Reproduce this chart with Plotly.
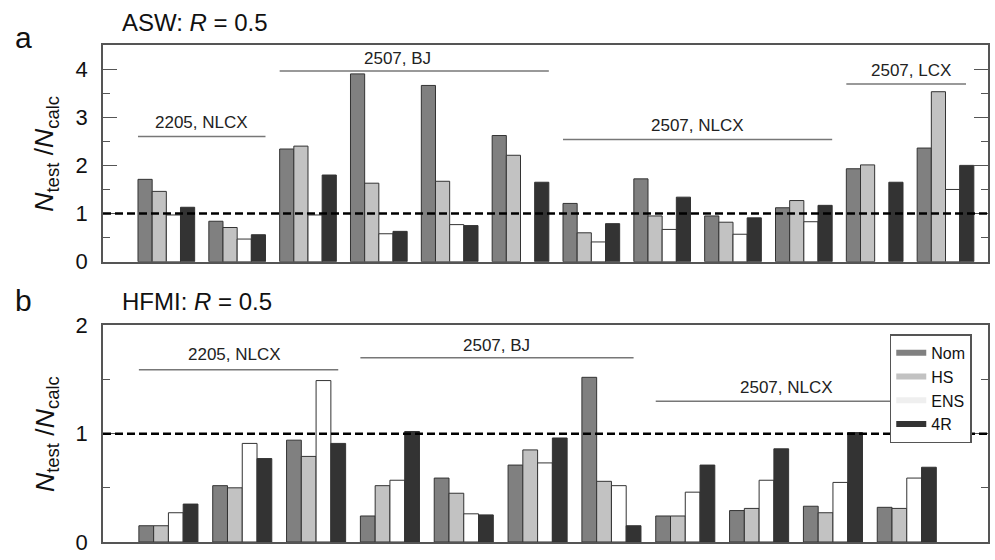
import plotly.graph_objects as go

# ---------------- data ----------------
series_names = ["Nom", "HS", "ENS", "4R"]
series_colors = ["#808080", "#c2c2c2", "#ffffff", "#333333"]
legend_colors = ["#808080", "#c2c2c2", "#efefef", "#333333"]

groups_a = list(range(12))
nom_a = [1.71, 0.84, 2.34, 3.90, 3.66, 2.62, 1.21, 1.72, 0.95, 1.12, 1.93, 2.36]
hs_a = [1.46, 0.71, 2.40, 1.63, 1.67, 2.21, 0.60, 0.95, 0.82, 1.27, 2.01, 3.53]
ens_a = [0.97, 0.47, 0.97, 0.58, 0.77, None, 0.41, 0.67, 0.57, 0.83, None, 1.50]
r4_a = [1.13, 0.56, 1.80, 0.63, 0.75, 1.65, 0.79, 1.34, 0.91, 1.17, 1.65, 2.00]

groups_b = list(range(11))
nom_b = [0.15, 0.52, 0.94, 0.24, 0.59, 0.71, 1.52, 0.24, 0.29, 0.33, 0.32]
hs_b = [0.15, 0.50, 0.79, 0.52, 0.45, 0.85, 0.56, 0.24, 0.31, 0.27, 0.31]
ens_b = [0.27, 0.91, 1.49, 0.57, 0.26, 0.73, 0.52, 0.46, 0.57, 0.55, 0.59]
r4_b = [0.35, 0.77, 0.91, 1.02, 0.25, 0.96, 0.15, 0.71, 0.86, 1.01, 0.69]

# group span labels: (text, x_start, x_end, line_y, text_x, text_y)
spans_a = [
    ("2205, NLCX", -0.4, 1.4, 2.60, 0.5, 2.89),
    ("2507, BJ", 1.6, 5.4, 3.96, 3.26, 4.22),
    ("2507, NLCX", 5.6, 9.4, 2.54, 7.5, 2.82),
    ("2507, LCX", 9.6, 11.29, 3.69, 10.51, 3.98),
]
spans_b = [
    ("2205, NLCX", -0.4, 2.3, 1.59, 0.9, 1.73),
    ("2507, BJ", 2.6, 6.3, 1.70, 4.44, 1.81),
    ("2507, NLCX", 6.6, 10.4, 1.30, 8.37, 1.43),
]

FONT = "Liberation Sans, Arial, Helvetica, sans-serif"
fig = go.Figure()

for vals, name, col in zip([nom_a, hs_a, ens_a, r4_a], series_names, series_colors):
    fig.add_trace(go.Bar(x=groups_a, y=vals, name=name, marker=dict(color=col, line=dict(color="#333333", width=1)),
                         xaxis="x", yaxis="y", showlegend=False))
for vals, name, col in zip([nom_b, hs_b, ens_b, r4_b], series_names, series_colors):
    fig.add_trace(go.Bar(x=groups_b, y=vals, name=name, marker=dict(color=col, line=dict(color="#333333", width=1)),
                         xaxis="x2", yaxis="y2", showlegend=False))
# legend entries (thick line swatches)
for name, col in zip(series_names, legend_colors):
    fig.add_trace(go.Scatter(x=[None], y=[None], mode="lines", name=name, line=dict(color=col, width=6),
                             xaxis="x2", yaxis="y2", showlegend=True))

shapes = []
annotations = []
for xr, yr, spans in [("x", "y", spans_a), ("x2", "y2", spans_b)]:
    shapes.append(dict(type="line", xref=xr + " domain", yref=yr, x0=0, x1=1, y0=1, y1=1,
                       line=dict(color="black", width=2.5, dash="8px,4px"), layer="above"))
    for text, xs, xe, ly, tx, ty in spans:
        shapes.append(dict(type="line", xref=xr, yref=yr, x0=xs, x1=xe, y0=ly, y1=ly,
                           line=dict(color="#777777", width=1.5), layer="above"))
        annotations.append(dict(text=text, xref=xr, yref=yr, x=tx, y=ty, showarrow=False,
                                font=dict(size=17, color="#222222", family=FONT), xanchor="center", yanchor="middle"))

# panel labels and titles
for xr, yr, letter, title, ly, ty in [("x", "y", "a", "ASW: <i>R</i> = 0.5", 1.035, 1.104),
                                     ("x2", "y2", "b", "HFMI: <i>R</i> = 0.5", 1.115, 1.108)]:
    annotations.append(dict(text=letter, xref=xr + " domain", yref=yr + " domain", x=-0.09, y=ly, showarrow=False,
                            font=dict(size=30, color="#111111", family=FONT), xanchor="center", yanchor="middle"))
    annotations.append(dict(text=title, xref=xr + " domain", yref=yr + " domain", x=0.019, y=ty, showarrow=False,
                            font=dict(size=24, color="#111111", family=FONT), xanchor="left", yanchor="middle"))
    annotations.append(dict(text="<i>N</i><sub>test</sub> /<i>N</i><sub>calc</sub>", xref=xr + " domain",
                            yref=yr + " domain", x=-0.064, y=0.5, showarrow=False, textangle=-90,
                            font=dict(size=26.5, color="#111111", family=FONT), xanchor="center", yanchor="middle"))

axis_common = dict(showline=True, linecolor="#555555", linewidth=1.5, mirror=True, showgrid=False, zeroline=False)
yaxis_common = dict(axis_common, mirror="ticks", ticks="inside", ticklen=14, tickwidth=1.2, tickcolor="#555555",
                    tickfont=dict(size=22, color="#111111", family=FONT), ticklabelstandoff=9,
                    minor=dict(ticks="inside", ticklen=7, dtick=0.5, tickcolor="#555555", tickwidth=1.2))

fig.update_layout(
    width=995, height=560,
    margin=dict(l=103, r=5, t=45, b=6),
    paper_bgcolor="white", plot_bgcolor="white",
    barmode="group", bargap=0.2, bargroupgap=0,
    font=dict(family=FONT),
    xaxis=dict(axis_common, domain=[0, 1], anchor="y", range=[-0.894, 11.6], showticklabels=False, ticks=""),
    yaxis=dict(yaxis_common, domain=[0.564, 1], anchor="x", range=[0, 4.5], dtick=1, tick0=0),
    xaxis2=dict(axis_common, domain=[0, 1], anchor="y2", range=[-0.886, 11.1], showticklabels=False, ticks=""),
    yaxis2=dict(yaxis_common, domain=[0, 0.436], anchor="x2", range=[0, 2], dtick=1, tick0=0),
    legend=dict(x=0.889, y=0.418, xanchor="left", yanchor="top", bgcolor="white", bordercolor="#555555",
                borderwidth=1.5, font=dict(size=16, color="#111111", family=FONT), itemwidth=30,
                tracegroupgap=0),
    shapes=shapes, annotations=annotations,
)

fig.write_html("out.html")
